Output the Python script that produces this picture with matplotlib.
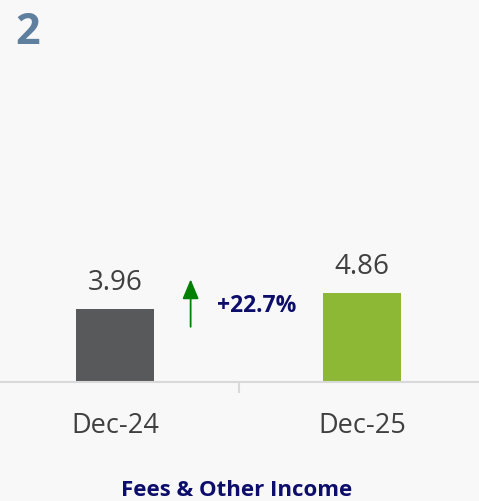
import matplotlib.pyplot as plt
from matplotlib.transforms import blended_transform_factory

# chart data
categories = ['Dec-24', 'Dec-25']
values = [3.96, 4.86]
bar_colors = ['#58595b', '#8cb836']
change_label = '+22.7%'
title = 'Fees & Other Income'
panel_number = '2'

plt.rcParams['font.family'] = ['Open Sans', 'DejaVu Sans']

bg = '#f8f8f8'
fig = plt.figure(figsize=(4.79, 5.02), dpi=100, facecolor=bg)
ax = fig.add_axes([0, 0.238, 1, 0.762], facecolor=bg)

x = list(range(len(categories)))
ax.bar(x, values, width=0.316, color=bar_colors)
ax.set_xlim(-0.466, 1.474)
ax.set_ylim(0, 20.96)

# value labels above the bars
for xi, v in zip(x, values):
    ax.annotate(f'{v:.2f}', (xi, v), xytext=(0, 14.5), textcoords='offset points',
                ha='center', va='baseline', fontsize=20, color='#404040')

# category labels under the axis line
trans = blended_transform_factory(ax.transData, fig.transFigure)
for xi, c in zip(x, categories):
    fig.text(xi, 0.152, c, transform=trans, ha='center', va='center',
             fontsize=19.5, color='#404040')

# growth arrow and label
ax.annotate('', xy=(0.306, 5.6), xytext=(0.306, 3.0),
            arrowprops=dict(arrowstyle='-|>,head_width=0.5,head_length=1.2',
                            color='#008000', lw=1.3, shrinkA=0, shrinkB=0))
ax.text(0.575, 4.2, change_label, ha='center', va='center', fontsize=16.5,
        fontweight='bold', color='#0d0d6b')

# baseline with a category divider tick
for side in ['top', 'right', 'left']:
    ax.spines[side].set_visible(False)
ax.spines['bottom'].set_color('#d9d9d9')
ax.spines['bottom'].set_linewidth(1.5)
ax.set_yticks([])
ax.set_xticks([0.5])
ax.set_xticklabels([''])
ax.tick_params(axis='x', length=8, width=1.5, color='#d9d9d9')

fig.text(0.495, 0.022, title, ha='center', va='center', fontsize=16,
         fontweight='bold', color='#0d0d6b')
fig.text(0.031, 0.978, panel_number, ha='left', va='top', fontsize=31,
         fontweight='bold', color='#5f7f9e')

fig.savefig('out.png', dpi=100, facecolor=bg)
